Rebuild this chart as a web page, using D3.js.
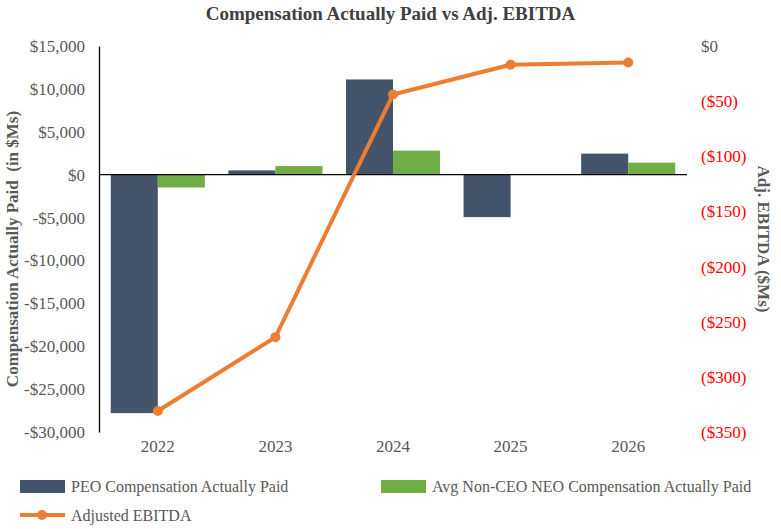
<!DOCTYPE html>
<html><head><meta charset="utf-8">
<script src="https://cdn.jsdelivr.net/npm/d3@7"></script>
<style>body{margin:0;background:#fff}svg text{font-family:"Liberation Serif","Times New Roman",serif !important}</style>
</head><body><svg id="c" font-family="Liberation Serif"></svg>
<script>
const years = ["2022", "2023", "2024", "2025", "2026"];
const peo = [-27800, 500, 11100, -4950, 2450];
const neo = [-1500, 1000, 2800, 0, 1400];
const ebitda = [-331, -264, -44, -17, -15];
const leftTicks = [15000, 10000, 5000, 0, -5000, -10000, -15000, -20000, -25000, -30000];
const rightTicks = [0, -50, -100, -150, -200, -250, -300, -350];

const W = 781, H = 529;
const m = { left: 99, right: 94, top: 46, bottom: 97 };
const svg = d3.select("#c").attr("width", W).attr("height", H);

const x = d3.scaleBand().domain(years).range([m.left, W - m.right]).paddingInner(0.2).paddingOuter(0.1);
const sub = d3.scaleBand().domain(["peo", "neo"]).range([0, x.bandwidth()]);
const y = d3.scaleLinear().domain([-30000, 15000]).range([H - m.bottom, m.top]);
const y2 = d3.scaleLinear().domain([-350, 0]).range([H - m.bottom, m.top]);

const fmtL = d => d < 0 ? "-$" + d3.format(",")(-d) : "$" + d3.format(",")(d);
const fmtR = d => d < 0 ? "($" + (-d) + ")" : "$" + d;

svg.append("text").attr("x", W / 2).attr("y", 20).attr("text-anchor", "middle")
  .attr("font-size", 19).attr("font-weight", "bold").attr("fill", "#404040")
  .text("Compensation Actually Paid vs Adj. EBITDA");

// left axis
const ga = svg.append("g").attr("transform", `translate(${m.left},0)`)
  .call(d3.axisLeft(y).tickValues(leftTicks).tickFormat(fmtL).tickSize(0).tickPadding(14));
ga.attr("font-family", null);
ga.select(".domain").attr("stroke", "#000").attr("stroke-width", 1.3);
ga.selectAll("text").attr("font-size", 17).attr("fill", "#595959");

// right axis
const gr = svg.append("g").attr("transform", `translate(${W - m.right + 14},0)`)
  .call(d3.axisRight(y2).tickValues(rightTicks).tickFormat(fmtR).tickSize(0).tickPadding(0));
gr.attr("font-family", null);
gr.select(".domain").remove();
gr.selectAll("text").attr("font-size", 17).attr("fill", d => d < 0 ? "#ff0000" : "#595959");

// axis titles
svg.append("text").attr("transform", `translate(18,${(m.top + H - m.bottom) / 2 + 10}) rotate(-90)`)
  .attr("text-anchor", "middle").attr("font-size", 17).attr("font-weight", "bold").attr("fill", "#595959")
  .attr("xml:space", "preserve").text("Compensation Actually Paid  (in $Ms)");
svg.append("text").attr("transform", `translate(758,${(m.top + H - m.bottom) / 2}) rotate(90)`)
  .attr("text-anchor", "middle").attr("font-size", 17).attr("font-weight", "bold").attr("fill", "#595959")
  .text("Adj. EBITDA ($Ms)");

// bars
const g = svg.append("g");
years.forEach((yr, i) => {
  [["peo", peo[i], "#44546a"], ["neo", neo[i], "#70ad47"]].forEach(([k, v, c]) => {
    g.append("rect").attr("x", x(yr) + sub(k)).attr("width", sub.bandwidth())
      .attr("y", y(Math.max(0, v))).attr("height", Math.abs(y(v) - y(0))).attr("fill", c);
  });
});

// zero line
svg.append("line").attr("x1", m.left).attr("x2", W - m.right).attr("y1", y(0)).attr("y2", y(0))
  .attr("stroke", "#000").attr("stroke-width", 1.3);

// x labels
svg.append("g").selectAll("text").data(years).join("text")
  .attr("x", d => x(d) + x.bandwidth() / 2).attr("y", H - m.bottom + 20)
  .attr("text-anchor", "middle").attr("font-size", 17).attr("fill", "#595959").text(d => d);

// line
const cx = i => x(years[i]) + x.bandwidth() / 2;
svg.append("path").datum(ebitda)
  .attr("d", d3.line().x((d, i) => cx(i)).y(d => y2(d)))
  .attr("fill", "none").attr("stroke", "#ed7d31").attr("stroke-width", 4);
svg.append("g").selectAll("circle").data(ebitda).join("circle")
  .attr("cx", (d, i) => cx(i)).attr("cy", d => y2(d)).attr("r", 5).attr("fill", "#ed7d31");

// legend
const lg = svg.append("g").attr("font-size", 16).attr("fill", "#595959");
lg.append("rect").attr("x", 20).attr("y", 480).attr("width", 45).attr("height", 13).attr("fill", "#44546a");
lg.append("text").attr("x", 71).attr("y", 492).text("PEO Compensation Actually Paid");
lg.append("rect").attr("x", 381).attr("y", 480).attr("width", 45).attr("height", 13).attr("fill", "#70ad47");
lg.append("text").attr("x", 432).attr("y", 492).text("Avg Non-CEO NEO Compensation Actually Paid");
lg.append("line").attr("x1", 20).attr("x2", 65).attr("y1", 515).attr("y2", 515).attr("stroke", "#ed7d31").attr("stroke-width", 4);
lg.append("circle").attr("cx", 42).attr("cy", 515).attr("r", 5).attr("fill", "#ed7d31");
lg.append("text").attr("x", 71).attr("y", 521).text("Adjusted EBITDA");
</script></body></html>
